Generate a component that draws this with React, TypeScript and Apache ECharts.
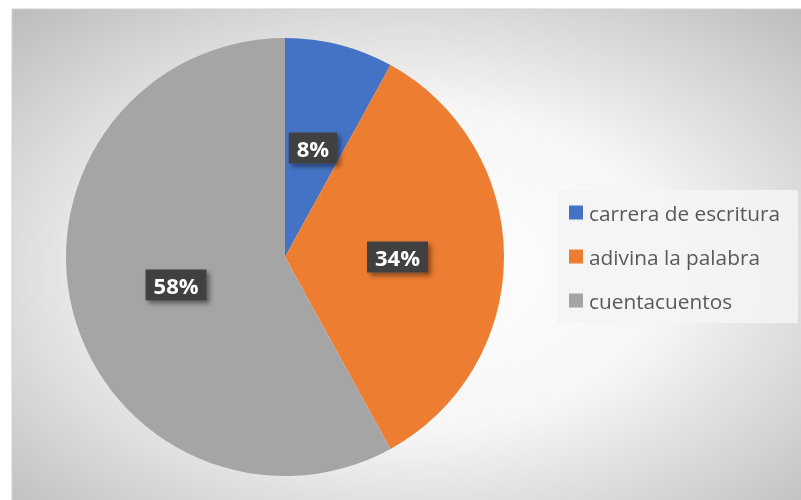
import React, { useEffect, useRef } from "react";
import * as echarts from "echarts";

const categories = ["carrera de escritura", "adivina la palabra", "cuentacuentos"];
const values = [8, 34, 58];
const colors = ["#4472C4", "#ED7D31", "#A5A5A5"];

export default function App() {
  const ref = useRef<HTMLDivElement>(null);
  useEffect(() => {
    const chart = echarts.init(ref.current!, null, { renderer: "svg" });
    chart.setOption({
      animation: false,
      graphic: [
        {
          type: "rect",
          z: -10,
          shape: { x: 12, y: 9, width: 800, height: 500 },
          style: {
            fill: new echarts.graphic.RadialGradient(0.5, 0.52, 0.72, [
              { offset: 0, color: "#ffffff" },
              { offset: 0.45, color: "#f6f6f6" },
              { offset: 1, color: "#bcbcbc" },
            ]),
            stroke: "#d0d0d0",
            lineWidth: 1,
          },
          silent: true,
        },
      ],
      legend: {
        orient: "vertical",
        left: 557,
        top: 190,
        backgroundColor: "rgba(244,244,244,0.85)",
        padding: [12, 18, 12, 12],
        itemWidth: 14,
        itemHeight: 14,
        itemGap: 23,
        icon: "rect",
        data: categories,
        textStyle: {
          fontFamily: "Open Sans",
          fontSize: 20.8,
          color: "#595959",
          padding: [0, 0, 0, 1],
        },
      },
      series: [
        {
          type: "pie",
          center: [285, 257],
          radius: [0, 219],
          startAngle: 90,
          clockwise: true,
          color: colors,
          data: categories.map((name, i) => ({ name, value: values[i] })),
          itemStyle: { borderWidth: 0 },
          label: {
            position: "inside",
            formatter: (p: any) => p.value + "%",
            color: "#ffffff",
            fontFamily: "Open Sans",
            fontWeight: "bold",
            fontSize: 22,
            backgroundColor: "#404040",
            padding: [5, 8, 4, 8],
            shadowColor: "rgba(0,0,0,0.45)",
            shadowBlur: 5,
            shadowOffsetX: 3,
            shadowOffsetY: 3,
          },
          labelLine: { show: false },
          emphasis: { disabled: true },
        },
      ],
    });
    return () => chart.dispose();
  }, []);
  return (
    <div
      ref={ref}
      style={{ position: "fixed", left: 0, top: 0, width: 801, height: 500 }}
    />
  );
}
